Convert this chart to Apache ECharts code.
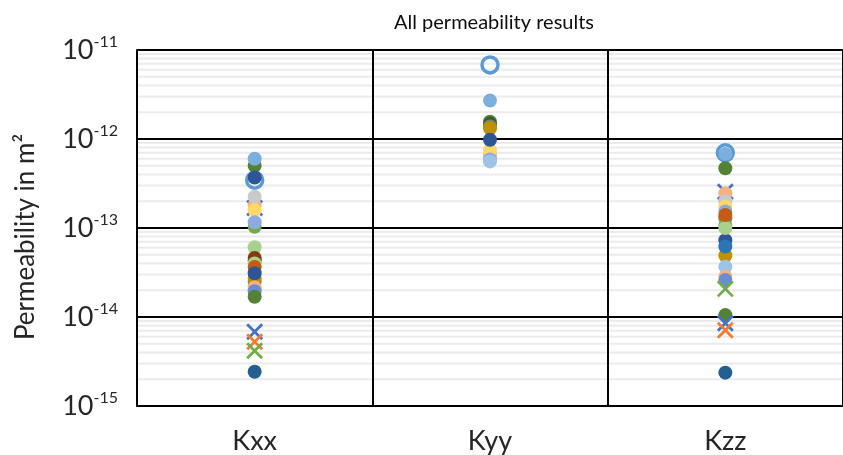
<!DOCTYPE html>
<html><head><meta charset="utf-8">
<script src="https://cdn.jsdelivr.net/npm/echarts@6/dist/echarts.min.js"></script>
<style>html,body{margin:0;padding:0;background:#fff}#c{width:843px;height:455px}</style>
</head><body><div id="c"></div>
<script>
const categories = ['Kxx', 'Kyy', 'Kzz'];
const yTicks = [1e-15, 1e-14, 1e-13, 1e-12, 1e-11];
// series values [Kxx, Kyy, Kzz]
const ringBlue    = [3.45e-13, 6.8e-12, 7.0e-13];
const darkGreen   = [5.0e-13, 1.56e-12, 4.7e-13];
const lightBlue   = [6.0e-13, 2.7e-12, 6.8e-13];
const olive       = [4.3e-14, 1.48e-12, null];
const gray        = [2.5e-14, 1.38e-12, 1.29e-13];
const gold        = [2.75e-14, 1.32e-12, 4.9e-14];
const blueX       = [1.68e-13, null, 2.55e-13];
const peach       = [1.8e-13, 6.6e-13, 2.45e-13];
const lightGray   = [2.25e-13, null, 2.0e-13];
const yellow      = [1.59e-13, 7.5e-13, 1.73e-13];
const green       = [1.03e-13, null, 1.06e-13];
const periwinkle  = [1.16e-13, 5.9e-13, 1.53e-13];
const paleBlue    = [null, 5.6e-13, 3.67e-14];
const darkBlue    = [3.7e-13, 9.8e-13, 7.3e-14];
const lightGreen  = [6.07e-14, null, 1.0e-13];
const brown       = [4.6e-14, null, null];
const lightGreen2 = [4.0e-14, null, null];
const rust        = [3.65e-14, null, 1.4e-13];
const midBlue     = [null, null, 6.2e-14];
const darkBlue2   = [3.1e-14, null, null];
const peach2      = [2.15e-14, null, 2.84e-14];
const periwinkle2 = [1.95e-14, null, 2.6e-14];
const darkGreen2  = [1.69e-14, null, 1.05e-14];
const blueX2      = [6.84e-15, null, 8.5e-15];
const orangeX     = [5.28e-15, null, 7.1e-15];
const greenX      = [4.18e-15, null, 2.07e-14];
const navy        = [2.43e-15, null, 2.37e-15];

const seriesDefs = [
  ['ringBlue', ringBlue, '#5B9BD5', 'ring'],
  ['darkGreen', darkGreen, '#548235', 'dot'],
  ['lightBlue', lightBlue, '#7CAFDD', 'dot'],
  ['olive', olive, '#3B5E24', 'dot'],
  ['gray', gray, '#7F7F7F', 'dot'],
  ['gold', gold, '#BF9000', 'dot'],
  ['blueX', blueX, '#4472C4', 'x'],
  ['peach', peach, '#F4B183', 'dot'],
  ['lightGray', lightGray, '#C9C9C9', 'dot'],
  ['yellow', yellow, '#FFD966', 'dot'],
  ['green', green, '#70AD47', 'dot'],
  ['periwinkle', periwinkle, '#8FAADC', 'dot'],
  ['paleBlue', paleBlue, '#9DC3E6', 'dot'],
  ['darkBlue', darkBlue, '#2F5597', 'dot'],
  ['lightGreen', lightGreen, '#A9D18E', 'dot'],
  ['brown', brown, '#843C0C', 'dot'],
  ['lightGreen2', lightGreen2, '#A9D18E', 'dot'],
  ['rust', rust, '#C55A11', 'dot'],
  ['midBlue', midBlue, '#2E75B6', 'dot'],
  ['darkBlue2', darkBlue2, '#2F5597', 'dot'],
  ['peach2', peach2, '#F4B183', 'dot'],
  ['periwinkle2', periwinkle2, '#698ED0', 'dot'],
  ['darkGreen2', darkGreen2, '#548235', 'dot'],
  ['blueX2', blueX2, '#4472C4', 'x'],
  ['orangeX', orangeX, '#ED7D31', 'x'],
  ['greenX', greenX, '#70AD47', 'x'],
  ['navy', navy, '#255E91', 'dot']
];

const minorVals = [];
for (let e = -15; e < -11; e++) for (let m = 2; m <= 9; m++) minorVals.push(m * Math.pow(10, e));

const FONT = 'Lato';
const series = [];
// light minor gridlines, spanning the full plot width via a hidden 0..1 x axis
minorVals.forEach(v => {
  series.push({
    type: 'line', xAxisIndex: 1, yAxisIndex: 0, silent: true, z: 1, symbol: 'none',
    animation: false, data: [[0, v], [1, v]],
    lineStyle: {color: '#EBEBEB', width: 2}
  });
});
seriesDefs.forEach(([name, vals, color, kind], i) => {
  const s = {name, type: 'scatter', xAxisIndex: 0, data: vals.map(v => v == null ? '-' : v), z: 3 + i, animation: false};
  if (kind === 'dot') {
    s.symbol = 'circle'; s.symbolSize = 14;
    s.itemStyle = {color, opacity: 1};
  } else if (kind === 'ring') {
    s.symbol = 'circle'; s.symbolSize = 16;
    s.itemStyle = {color: 'rgba(255,255,255,0)', borderColor: color, borderWidth: 3.5, opacity: 1};
  } else {
    s.symbol = 'path://M0,0L10,10M10,0L0,10'; s.symbolSize = 15;
    s.itemStyle = {color: 'rgba(0,0,0,0)', borderColor: color, borderWidth: 2.8, opacity: 1};
  }
  series.push(s);
});

const chart = echarts.init(document.getElementById('c'), null, {renderer: 'canvas'});
chart.setOption({
  animation: false,
  backgroundColor: '#fff',
  textStyle: {fontFamily: FONT},
  title: {
    text: 'All permeability results', left: 489, top: 8, textAlign: 'center',
    textStyle: {fontFamily: FONT, fontSize: 20, fontWeight: 'normal', color: '#0d0d0d'}
  },
  grid: {left: 137, top: 50, width: 719, height: 356, containLabel: false},
  xAxis: [{
    type: 'category', data: categories, boundaryGap: true, z: 2,
    axisLine: {show: true, lineStyle: {color: '#000', width: 2}},
    axisTick: {show: false},
    splitLine: {show: true, lineStyle: {color: '#000', width: 2}},
    axisLabel: {fontFamily: FONT, fontSize: 27, color: '#262626', margin: 22}
  }, {
    type: 'value', min: 0, max: 1, show: false, position: 'top'
  }],
  yAxis: {
    type: 'log', logBase: 10, min: 1e-15, max: 1e-11, z: 2,
    axisLine: {show: true, lineStyle: {color: '#000', width: 2}},
    axisTick: {show: false},
    splitLine: {show: true, lineStyle: {color: '#000', width: 2}},
    axisLabel: {
      margin: 19,
      formatter: v => '{b|10}{s|' + Math.round(Math.log10(v)) + '}',
      rich: {
        b: {fontFamily: FONT, fontSize: 27, color: '#262626', lineHeight: 32},
        s: {fontFamily: FONT, fontSize: 16, color: '#262626', verticalAlign: 'top', lineHeight: 32, padding: [0, 0, 14, 0]}
      }
    }
  },
  graphic: [{
    type: 'text', x: 26, y: 237, rotation: Math.PI / 2,
    style: {text: 'Permeability in m²', fontFamily: FONT, fontSize: 26, fill: '#262626', textAlign: 'center', textVerticalAlign: 'middle'}
  }],
  series
});
</script></body></html>
